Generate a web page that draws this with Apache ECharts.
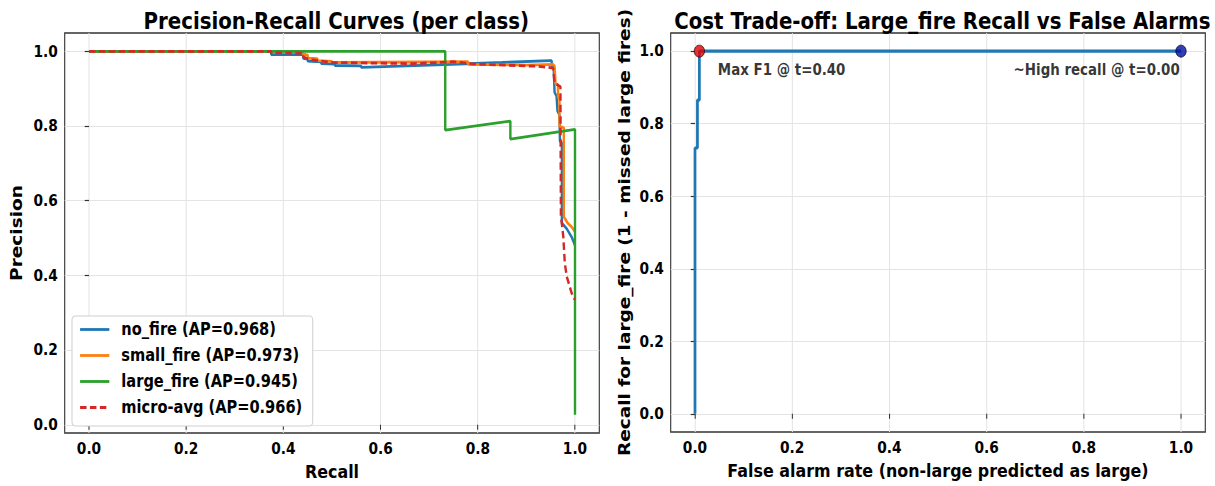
<!DOCTYPE html>
<html>
<head>
<meta charset="utf-8">
<script src="https://cdn.jsdelivr.net/npm/echarts@6/dist/echarts.min.js"></script>
<style>
html,body{margin:0;padding:0;background:#fff;overflow:hidden}
#wrap{width:1215px;height:486px;overflow:hidden}
#c{width:1413px;height:486px;transform:scaleX(0.859873);transform-origin:0 0}
</style>
</head>
<body>
<div id="wrap"><div id="c"></div></div>
<script>
// ---- Data ----
const tickValues = [0, 0.2, 0.4, 0.6, 0.8, 1.0];

const noFireRecall    = [0, 0.375, 0.375, 0.441, 0.441, 0.45, 0.45, 0.478, 0.478, 0.506, 0.506, 0.56, 0.56, 0.70, 0.85, 0.948, 0.952, 0.952, 0.956, 0.958, 0.962, 0.964, 0.968, 0.969, 0.973, 0.973, 0.983, 0.993, 0.997, 1.0];
const noFirePrecision = [1.0, 1.0, 0.991, 0.991, 0.981, 0.979, 0.974, 0.972, 0.967, 0.966, 0.962, 0.961, 0.957, 0.963, 0.970, 0.975, 0.975, 0.96, 0.958, 0.89, 0.88, 0.84, 0.83, 0.76, 0.755, 0.54, 0.525, 0.503, 0.49, 0.48];

const smallFireRecall    = [0, 0.44, 0.44, 0.45, 0.45, 0.47, 0.47, 0.50, 0.50, 0.78, 0.78, 0.90, 0.955, 0.958, 0.96, 0.965, 0.965, 0.968, 0.968, 0.977, 0.977, 0.985, 0.993, 1.0];
const smallFirePrecision = [1.0, 1.0, 0.993, 0.99, 0.982, 0.98, 0.975, 0.973, 0.97, 0.972, 0.965, 0.963, 0.965, 0.96, 0.913, 0.91, 0.878, 0.875, 0.80, 0.795, 0.557, 0.54, 0.53, 0.517];

const largeFireRecall    = [0, 0.733, 0.733, 0.867, 0.867, 1.0, 1.0];
const largeFirePrecision = [1.0, 1.0, 0.789, 0.813, 0.765, 0.791, 0.027];

const microRecall    = [0, 0.375, 0.375, 0.441, 0.441, 0.45, 0.47, 0.50, 0.667, 0.75, 0.79, 0.92, 0.945, 0.955, 0.958, 0.970, 0.971, 0.976, 0.979, 0.983, 0.993, 0.997, 1.0];
const microPrecision = [1.0, 1.0, 0.996, 0.995, 0.985, 0.98, 0.975, 0.97, 0.967, 0.972, 0.966, 0.96, 0.957, 0.955, 0.915, 0.905, 0.56, 0.503, 0.433, 0.397, 0.353, 0.34, 0.335];

const seriesNames = ['no_fire (AP=0.968)', 'small_fire (AP=0.973)', 'large_fire (AP=0.945)', 'micro-avg (AP=0.966)'];

const farValues    = [0, 0, 0.005, 0.005, 0.009, 0.009, 1.0];
const recallValues = [0, 0.733, 0.733, 0.865, 0.865, 1.0, 1.0];

const maxF1Point = [0.009, 1.0];
const highRecallPoint = [1.0, 1.0];
const maxF1Label = 'Max F1 @ t=0.40';
const highRecallLabel = '~High recall @ t=0.00';

// ---- Layout helpers (the page is drawn wide and squeezed horizontally) ----
const W = 1413;
const S = 1215 / W;
const X = px => px / S;

const zip = (a, b) => a.map((v, i) => [v, b[i]]);
const FONT = 'DejaVu Sans';
const axisLabelStyle = {color: '#000', fontFamily: FONT, fontWeight: 'bold', fontSize: 16, margin: 8,
  customValues: tickValues, formatter: v => v.toFixed(1)};
const tickStyle = {show: true, length: 5, lineStyle: {color: '#333', width: 1.2}, customValues: tickValues};
const splitStyle = {show: true, lineStyle: {color: '#e4e4e4', width: 1.2}};
const nameStyle = {color: '#000', fontFamily: FONT, fontWeight: 'bold', fontSize: 18.5};
const annStyle = {color: '#000', fontFamily: FONT, fontWeight: 'bold', fontSize: 15.6};
const titleStyle = {color: '#000', fontFamily: FONT, fontWeight: 'bold', fontSize: 23};

const chart = echarts.init(document.getElementById('c'), null, {renderer: 'svg'});
chart.setOption({
  backgroundColor: '#fff',
  animation: false,
  title: [
    {text: 'Precision-Recall Curves (per class)', left: X(332), top: 4, textAlign: 'center', textStyle: titleStyle},
    {text: 'Cost Trade-off: Large_fire Recall vs False Alarms', left: X(938), top: 4, textAlign: 'center', textStyle: titleStyle}
  ],
  grid: [
    {left: X(64.7), right: W - X(599.3), top: 33, bottom: 53, show: true, borderColor: '#333', borderWidth: 1.3, backgroundColor: 'transparent'},
    {left: X(670.7), right: W - X(1205.3), top: 33, bottom: 54, show: true, borderColor: '#333', borderWidth: 1.3, backgroundColor: 'transparent'}
  ],
  xAxis: [
    {type: 'value', gridIndex: 0, min: -0.05, max: 1.05, axisLine: {show: false},
     axisTick: tickStyle, axisLabel: axisLabelStyle, splitLine: splitStyle,
     name: 'Recall', nameLocation: 'middle', nameGap: 26, nameTextStyle: nameStyle},
    {type: 'value', gridIndex: 1, min: -0.05, max: 1.05, axisLine: {show: false},
     axisTick: tickStyle, axisLabel: axisLabelStyle, splitLine: splitStyle,
     name: 'False alarm rate (non-large predicted as large)', nameLocation: 'middle', nameGap: 26, nameTextStyle: nameStyle}
  ],
  yAxis: [
    {type: 'value', gridIndex: 0, min: -0.022, max: 1.049, axisLine: {show: false},
     axisTick: tickStyle, axisLabel: axisLabelStyle, splitLine: splitStyle,
     name: 'Precision', nameLocation: 'middle', nameGap: 47, nameTextStyle: nameStyle},
    {type: 'value', gridIndex: 1, min: -0.05, max: 1.05, axisLine: {show: false},
     axisTick: tickStyle, axisLabel: axisLabelStyle, splitLine: splitStyle,
     name: 'Recall for large_fire (1 - missed large fires)', nameLocation: 'middle', nameGap: 44, nameTextStyle: nameStyle}
  ],
  legend: {
    orient: 'vertical', left: X(72), top: 316, padding: [5, 12, 10, 8], itemGap: 9,
    itemWidth: 34, itemHeight: 17,
    itemStyle: {opacity: 0},
    lineStyle: {width: 2.8},
    backgroundColor: '#fff', borderColor: '#d0d0d0', borderWidth: 1.2, borderRadius: 4,
    textStyle: {color: '#000', fontFamily: FONT, fontWeight: 'bold', fontSize: 17, padding: [0, 0, 0, 9]},
    data: seriesNames
  },
  series: [
    {name: seriesNames[0], type: 'line', xAxisIndex: 0, yAxisIndex: 0, symbol: 'none', z: 3,
     lineStyle: {color: '#1f77b4', width: 2.8}, itemStyle: {color: '#1f77b4'}, data: zip(noFireRecall, noFirePrecision)},
    {name: seriesNames[1], type: 'line', xAxisIndex: 0, yAxisIndex: 0, symbol: 'none', z: 4,
     lineStyle: {color: '#ff7f0e', width: 2.8}, itemStyle: {color: '#ff7f0e'}, data: zip(smallFireRecall, smallFirePrecision)},
    {name: seriesNames[2], type: 'line', xAxisIndex: 0, yAxisIndex: 0, symbol: 'none', z: 5,
     lineStyle: {color: '#2ca02c', width: 2.8}, itemStyle: {color: '#2ca02c'}, data: zip(largeFireRecall, largeFirePrecision)},
    {name: seriesNames[3], type: 'line', xAxisIndex: 0, yAxisIndex: 0, symbol: 'none', z: 6,
     lineStyle: {color: '#d62728', width: 2.8, type: [7.5, 4]}, itemStyle: {color: '#d62728'}, data: zip(microRecall, microPrecision)},
    {name: 'curve', type: 'line', xAxisIndex: 1, yAxisIndex: 1, symbol: 'none', z: 3,
     lineStyle: {color: '#1f77b4', width: 3.2}, data: zip(farValues, recallValues)},
    {name: 'maxF1', type: 'scatter', xAxisIndex: 1, yAxisIndex: 1, symbolSize: 12, z: 6,
     itemStyle: {color: '#e00000', borderColor: '#300', borderWidth: 1},
     label: Object.assign({show: true, formatter: maxF1Label, position: [28, 25], align: 'left', verticalAlign: 'middle'}, annStyle),
     data: [maxF1Point]},
    {name: 'highRecall', type: 'scatter', xAxisIndex: 1, yAxisIndex: 1, symbolSize: 12, z: 6,
     itemStyle: {color: '#0010a0', borderColor: '#001', borderWidth: 1},
     label: Object.assign({show: true, formatter: highRecallLabel, position: [5, 25], align: 'right', verticalAlign: 'middle'}, annStyle),
     data: [highRecallPoint]}
  ]
});
</script>
</body>
</html>
